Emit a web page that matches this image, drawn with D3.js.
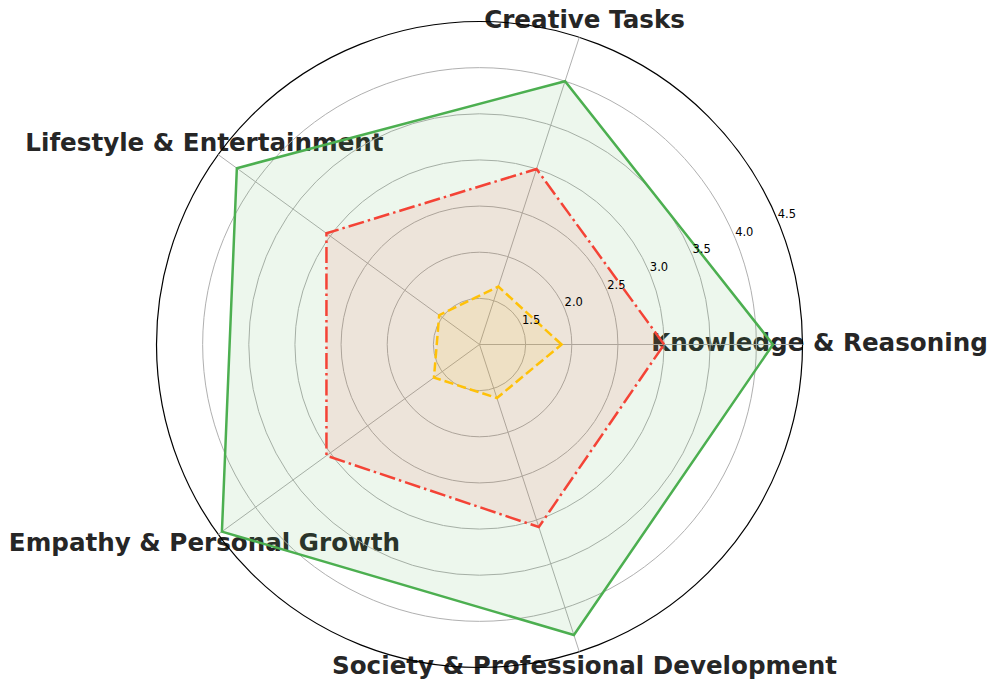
<!DOCTYPE html>
<html>
<head>
<meta charset="utf-8">
<script src="https://cdn.jsdelivr.net/npm/d3@7"></script>
<style>
  body { margin: 0; background: #fff; }
  svg { display: block; font-family: "DejaVu Sans", sans-serif; }
</style>
</head>
<body>
<div id="chart"></div>
<script>
var categories = ["Knowledge & Reasoning", "Creative Tasks", "Lifestyle & Entertainment",
                  "Empathy & Personal Growth", "Society & Professional Development"];
var greenValues = [4.18, 4.0, 4.25, 4.45, 4.31];
var redValues = [3.0, 3.0, 3.05, 3.05, 3.08];
var yellowValues = [1.89, 1.66, 1.54, 1.61, 1.61];
var tickValues = [1.5, 2.0, 2.5, 3.0, 3.5, 4.0, 4.5];

var width = 997, height = 690,
    cx = 479.5, cy = 344.5,
    radius = 323,
    labelRadius = 340;

var svg = d3.select("#chart").append("svg")
    .attr("width", width)
    .attr("height", height);

var g = svg.append("g")
    .attr("transform", "translate(" + cx + "," + cy + ")");

var rScale = d3.scaleLinear().domain([1, 4.5]).range([0, radius]);
// math angle, counter-clockwise from east
var angle = d3.scaleLinear().domain([0, categories.length]).range([0, 2 * Math.PI]);

// category labels (under everything else)
g.selectAll(".cat")
    .data(categories)
    .enter()
    .append("text")
    .attr("x", function (d, i) { return labelRadius * Math.cos(angle(i)); })
    .attr("y", function (d, i) { return -labelRadius * Math.sin(angle(i)) - 2; })
    .attr("text-anchor", "middle")
    .attr("dominant-baseline", "central")
    .style("font-size", "24.6px")
    .style("font-weight", "bold")
    .style("fill", "#262626")
    .text(function (d) { return d; });

// rings
g.selectAll(".ring")
    .data(tickValues)
    .enter()
    .append("circle")
    .attr("r", function (d) { return rScale(d); })
    .style("fill", "none")
    .style("stroke", function (d, i) { return i == tickValues.length - 1 ? "#000" : "#b0b0b0"; })
    .style("stroke-width", function (d, i) { return i == tickValues.length - 1 ? 1.2 : 1; });

// spokes
g.selectAll(".spoke")
    .data(categories)
    .enter()
    .append("line")
    .attr("x1", 0).attr("y1", 0)
    .attr("x2", function (d, i) { return radius * Math.cos(angle(i)); })
    .attr("y2", function (d, i) { return -radius * Math.sin(angle(i)); })
    .style("stroke", "#b0b0b0")
    .style("stroke-width", 1);

var radarLine = d3.lineRadial()
    .angle(function (d, i) { return Math.PI / 2 - angle(i); })
    .radius(function (d) { return rScale(d); })
    .curve(d3.curveLinearClosed);

var series = [
    { values: greenValues, color: "#4caf50", dash: null },
    { values: redValues, color: "#f44336", dash: "16,4,2.5,4" },
    { values: yellowValues, color: "#ffc107", dash: "9.25,4" }
];

series.forEach(function (s) {
    g.append("path")
        .attr("d", radarLine(s.values))
        .style("fill", s.color)
        .style("fill-opacity", 0.1)
        .style("stroke", "none");
});

series.forEach(function (s) {
    g.append("path")
        .attr("d", radarLine(s.values))
        .style("fill", "none")
        .style("stroke", s.color)
        .style("stroke-width", 2.5)
        .style("stroke-linejoin", "miter")
        .style("stroke-dasharray", s.dash);
});

// radial tick labels at 22.5 degrees
var tickAngle = 22.5 * Math.PI / 180;
g.selectAll(".tick")
    .data(tickValues)
    .enter()
    .append("text")
    .attr("x", function (d) { return rScale(d) * Math.cos(tickAngle) + 9; })
    .attr("y", function (d) { return -rScale(d) * Math.sin(tickAngle) - 7; })
    .attr("text-anchor", "middle")
    .attr("dominant-baseline", "central")
    .style("font-size", "11.5px")
    .style("fill", "#000")
    .text(function (d) { return d.toFixed(1); });
</script>
</body>
</html>
